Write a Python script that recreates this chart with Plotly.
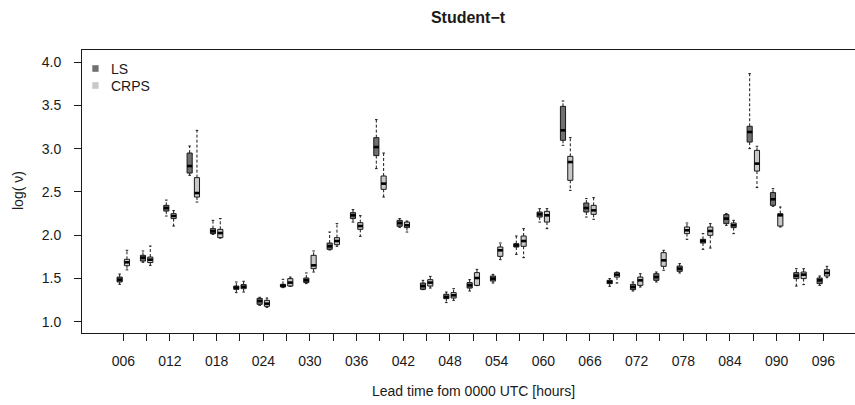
import plotly.graph_objects as go

# Forecast lead times (hours after 0000 UTC) and the labelled axis ticks
lead_hours = [6, 9, 12, 15, 18, 21, 24, 27, 30, 33, 36, 39, 42, 45, 48, 51,
              54, 57, 60, 63, 66, 69, 72, 75, 78, 81, 84, 87, 90, 93, 96]
label_hours = [6, 12, 18, 24, 30, 36, 42, 48, 54, 60, 66, 72, 78, 84, 90, 96]
label_text = ["006", "012", "018", "024", "030", "036", "042", "048",
              "054", "060", "066", "072", "078", "084", "090", "096"]
y_ticks = [1.0, 1.5, 2.0, 2.5, 3.0, 3.5, 4.0]

# log(nu) box statistics, LS estimation
ls_low = [1.433, 1.687, 2.222, 2.692, 2.010, 1.337, 1.190, 1.395, 1.441, 1.830,
          2.152, 2.769, 2.091, 1.372, 1.222, 1.356, 1.448, 1.779, 2.152, 3.038,
          2.210, 1.410, 1.356, 1.460, 1.564, 1.837, 2.114, 3.000, 2.334, 1.413, 1.421]
ls_q1 = [1.460, 1.702, 2.279, 2.718, 2.018, 1.375, 1.202, 1.402, 1.453, 1.837,
         2.192, 2.919, 2.103, 1.375, 1.268, 1.390, 1.471, 1.864, 2.210, 3.096,
         2.268, 1.441, 1.372, 1.479, 1.583, 1.910, 2.134, 3.076, 2.345, 1.499, 1.441]
ls_med = [1.487, 1.741, 2.314, 2.799, 2.045, 1.395, 1.240, 1.418, 1.479, 1.872,
          2.230, 3.018, 2.141, 1.413, 1.286, 1.421, 1.499, 1.883, 2.241, 3.211,
          2.314, 1.460, 1.402, 1.517, 1.614, 1.933, 2.192, 3.192, 2.415, 1.533, 1.479]
ls_q3 = [1.517, 1.768, 2.345, 2.949, 2.076, 1.413, 1.271, 1.433, 1.506, 1.910,
         2.261, 3.127, 2.172, 1.448, 1.318, 1.453, 1.529, 1.903, 2.268, 3.488,
         2.372, 1.479, 1.433, 1.556, 1.644, 1.953, 2.238, 3.258, 2.492, 1.568, 1.506]
ls_high = [1.552, 1.818, 2.406, 3.030, 2.172, 1.460, 1.283, 1.491, 1.564, 2.037,
           2.296, 3.335, 2.192, 1.479, 1.344, 1.487, 1.548, 1.991, 2.307, 3.550,
           2.423, 1.499, 1.460, 1.575, 1.672, 2.018, 2.249, 3.866, 2.538, 1.614, 1.529]

# log(nu) box statistics, CRPS estimation
crps_low = [1.600, 1.652, 2.106, 2.383, 1.967, 1.344, 1.167, 1.410, 1.575, 1.872,
            1.987, 2.441, 2.037, 1.390, 1.248, 1.418, 1.718, 1.741, 2.076, 2.518,
            2.184, 1.448, 1.402, 1.595, 1.953, 1.852, 2.018, 2.550, 2.095, 1.430, 1.510]
crps_q1 = [1.648, 1.684, 2.192, 2.441, 1.972, 1.383, 1.179, 1.413, 1.614, 1.891,
           2.068, 2.530, 2.088, 1.413, 1.275, 1.421, 1.756, 1.872, 2.152, 2.634,
           2.241, 1.517, 1.421, 1.641, 2.018, 1.999, 2.088, 2.741, 2.106, 1.499, 1.529]
crps_med = [1.687, 1.718, 2.222, 2.487, 2.025, 1.406, 1.210, 1.453, 1.652, 1.933,
            2.106, 2.596, 2.114, 1.453, 1.306, 1.506, 1.826, 1.933, 2.230, 2.845,
            2.287, 1.545, 1.479, 1.710, 2.057, 2.049, 2.114, 2.827, 2.230, 1.545, 1.564]
crps_q3 = [1.722, 1.748, 2.249, 2.665, 2.068, 1.430, 1.248, 1.499, 1.768, 1.972,
           2.145, 2.684, 2.152, 1.487, 1.337, 1.568, 1.864, 1.991, 2.276, 2.911,
           2.345, 1.568, 1.517, 1.799, 2.095, 2.095, 2.141, 2.980, 2.249, 1.575, 1.602]
crps_high = [1.826, 1.875, 2.284, 3.211, 2.192, 1.468, 1.275, 1.517, 1.818, 2.134,
             2.226, 2.949, 2.164, 1.525, 1.383, 1.606, 1.910, 2.076, 2.307, 3.127,
             2.434, 1.575, 1.556, 1.826, 2.141, 2.134, 2.172, 3.027, 2.326, 1.614, 1.641]

LS_FILL = "#707070"
CRPS_FILL = "#c8c8c8"
INK = "#1a1a1a"
FONT = "Liberation Sans, Arial, Helvetica, sans-serif"

W, H = 855, 405
L, R, T, B = 82, 0, 50, 72
PLOT_W, PLOT_H = W - L - R, H - T - B

OFFSET = 0.47      # half the spacing between the LS and CRPS box of a lead time
BOX_W = 0.66       # box width in hours
X_RANGE = [0.69, 0.69 + PLOT_W / 7.778]
Y_RANGE = [0.871, 0.871 + PLOT_H / 86.6]


def px(xpix):
    return (xpix - L) / PLOT_W


def py(ypix):
    return (H - B - ypix) / PLOT_H


def add_boxes(fig, shift, low, q1, med, q3, high, fill):
    xs = [h + shift for h in lead_hours]
    # dashed whiskers
    wx, wy = [], []
    for x, lo, a, b, hi in zip(xs, low, q1, q3, high):
        wx += [x, x, None, x, x, None]
        wy += [b, hi, None, a, lo, None]
    fig.add_trace(go.Scatter(x=wx, y=wy, mode="lines", hoverinfo="skip",
                             line=dict(color=INK, width=1, dash="3px,2px"),
                             showlegend=False))
    # staples at whisker ends
    sx, sy = [], []
    for x, lo, hi in zip(xs, low, high):
        for v in (lo, hi):
            sx += [x - BOX_W / 4, x + BOX_W / 4, None]
            sy += [v, v, None]
    fig.add_trace(go.Scatter(x=sx, y=sy, mode="lines", hoverinfo="skip",
                             line=dict(color=INK, width=1), showlegend=False))
    # boxes
    fig.add_trace(go.Box(x=xs, q1=q1, median=med, q3=q3, lowerfence=q1,
                         upperfence=q3, width=BOX_W, whiskerwidth=0,
                         fillcolor=fill, line=dict(color=INK, width=1),
                         boxpoints=False, hoverinfo="skip", showlegend=False))
    # heavy median bars
    mx, my = [], []
    for x, m in zip(xs, med):
        mx += [x - BOX_W / 2, x + BOX_W / 2, None]
        my += [m, m, None]
    fig.add_trace(go.Scatter(x=mx, y=my, mode="lines", hoverinfo="skip",
                             line=dict(color="black", width=2.6),
                             showlegend=False))


fig = go.Figure()
add_boxes(fig, -OFFSET, ls_low, ls_q1, ls_med, ls_q3, ls_high, LS_FILL)
add_boxes(fig, OFFSET, crps_low, crps_q1, crps_med, crps_q3, crps_high, CRPS_FILL)

# legend keys
shapes = []
annotations = []
for name, fill, cy in (("LS", LS_FILL, 68.5), ("CRPS", CRPS_FILL, 85.5)):
    shapes.append(dict(type="rect", xref="paper", yref="paper",
                       x0=px(92.3), x1=px(98.6), y0=py(cy + 3.3), y1=py(cy - 3.3),
                       fillcolor=fill, line=dict(width=0)))
    annotations.append(dict(text=name, xref="paper", yref="paper",
                            x=px(109), y=py(cy), xanchor="left", yanchor="middle",
                            showarrow=False, font=dict(size=14, color=INK, family=FONT)))

annotations.append(dict(text="Lead time fom 0000 UTC [hours]", xref="paper", yref="paper",
                        x=px(473), y=py(391), xanchor="center", yanchor="middle",
                        showarrow=False, font=dict(size=14, color=INK, family=FONT)))
annotations.append(dict(text="log( ν)", xref="paper", yref="paper",
                        x=px(18), y=py(191), xanchor="center", yanchor="middle",
                        textangle=-90, showarrow=False,
                        font=dict(size=14, color=INK, family=FONT)))

fig.update_layout(
    width=W, height=H,
    margin=dict(l=L, r=R, t=T, b=B, pad=0),
    paper_bgcolor="white", plot_bgcolor="white",
    boxmode="overlay",
    title=dict(text="<b>Student−t</b>", xref="container", yref="container",
               x=468 / W, y=1 - 17 / H, xanchor="center", yanchor="middle",
               font=dict(size=16, color=INK, family=FONT)),
    xaxis=dict(range=X_RANGE, tickmode="array", tickvals=lead_hours,
               ticktext=[label_text[label_hours.index(h)] if h in label_hours else ""
                         for h in lead_hours],
               ticks="outside", ticklen=7, tickwidth=1, tickcolor=INK,
               showline=True, mirror=True, linecolor=INK, linewidth=1,
               showgrid=False, zeroline=False,
               tickfont=dict(size=14, color=INK, family=FONT),
               ticklabelstandoff=8),
    yaxis=dict(range=Y_RANGE, tickmode="array", tickvals=y_ticks,
               ticktext=[f"{v:.1f}" for v in y_ticks],
               ticks="outside", ticklen=7, tickwidth=1, tickcolor=INK,
               showline=True, mirror=False, linecolor=INK, linewidth=1,
               showgrid=False, zeroline=False,
               tickfont=dict(size=14, color=INK, family=FONT),
               ticklabelstandoff=10),
    shapes=shapes,
    annotations=annotations,
)

fig.write_html("out.html")
